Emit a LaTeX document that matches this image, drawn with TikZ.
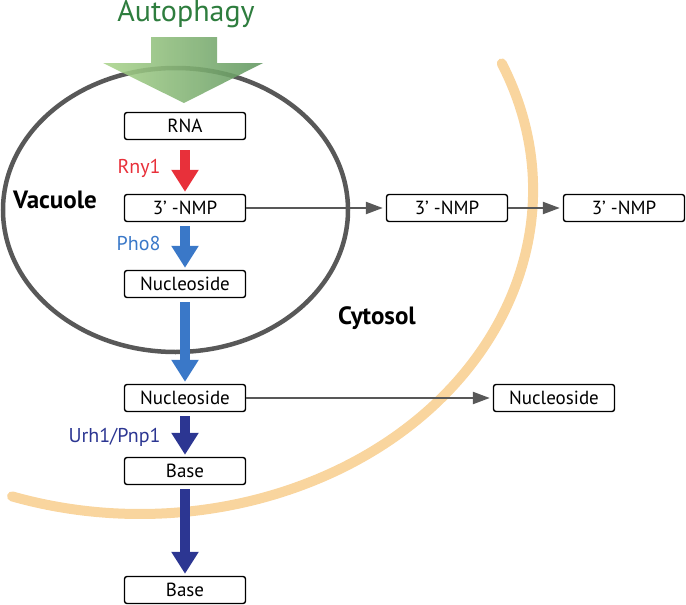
\documentclass[tikz,border=0pt]{standalone}
\usepackage{fontspec}
\setmainfont{PT Sans}
\usetikzlibrary{positioning,arrows.meta}

\definecolor{membrane}{RGB}{249,213,158}
\definecolor{vacgray}{RGB}{88,88,88}
\definecolor{autogreen}{RGB}{46,125,62}
\definecolor{greenlight}{RGB}{170,212,140}
\definecolor{greendark}{RGB}{96,150,96}
\definecolor{rnyred}{RGB}{232,48,58}
\definecolor{phoblue}{RGB}{58,120,200}
\definecolor{urhblue}{RGB}{44,54,146}

\tikzset{
  box/.style={draw, fill=white, rounded corners=2.5pt, line width=1.4pt,
    minimum width=121pt, minimum height=27pt, inner sep=0pt,
    font=\fontsize{19}{21}\selectfont},
  enzyme/.style={font=\fontsize{20}{22}\selectfont, anchor=east},
  region/.style={font=\fontsize{25}{28}\selectfont\bfseries},
  bigarrow/.style={line width=10pt, shorten <=4pt, shorten >=2pt,
    -{Triangle[length=22pt,width=26pt]}},
  transport/.style={vacgray, line width=2.3pt, shorten >=3pt,
    -{Triangle[length=17pt,width=12pt]}}
}

\begin{document}
\begin{tikzpicture}[x=1pt,y=-1pt]
\useasboundingbox (0,0) rectangle (686,605);

% cell membrane and vacuole
\draw[membrane, line width=10pt, line cap=round]
  (140,190) ++(-23:393 and 324) arc[start angle=-23, end angle=109, x radius=393, y radius=324];
\draw[vacgray, line width=4.5pt] (175.5,210) ellipse[x radius=172.5, y radius=142];

% autophagy input
\node[text=autogreen, font=\fontsize{30}{33}\selectfont] (autophagy) at (186,14) {Autophagy};
\shade[left color=greenlight, right color=greendark, fill opacity=0.88]
  (151,37) -- (217,37) -- (217,63) -- (263,63) -- (184,103) -- (103,63) -- (151,63) -- cycle;

% vacuole
\node[box] (rna) at (185,126) {RNA};
\node[box] (nmpvac) at (185,208) {3’ -NMP};
\node[box] (nucvac) at (185,284) {Nucleoside};
% cytosol
\node[box] (nuccyt) at (185,398) {Nucleoside};
\node[box] (basecyt) at (185,471) {Base};
\node[box] (baseout) at (185,590) {Base};
% exported
\node[box] (nmpcyt) at (447,208) {3’ -NMP};
\node[box] (nmpout) at (624,208) {3’ -NMP};
\node[box] (nucout) at (554,398) {Nucleoside};

\node[region] (vacuole) at (55,200) {Vacuole};
\node[region] (cytosol) at (377,318) {Cytosol};

\node[enzyme, text=rnyred] (rny) at (164,168) {Rny1};
\node[enzyme, text=phoblue] (pho) at (164,243) {Pho8};
\node[enzyme, text=urhblue] (urh) at (164,437) {Urh1/Pnp1};

\draw[bigarrow, rnyred, shorten <=10pt] (rna) -- (nmpvac);
\draw[bigarrow, phoblue] (nmpvac) -- (nucvac);
\draw[bigarrow, phoblue] (nucvac) -- (nuccyt);
\draw[bigarrow, urhblue] (nuccyt) -- (basecyt);
\draw[bigarrow, urhblue] (basecyt) -- (baseout);

\draw[transport] (nmpvac) -- (nmpcyt);
\draw[transport] (nmpcyt) -- (nmpout);
\draw[transport] (nuccyt) -- (nucout);
\end{tikzpicture}
\end{document}
